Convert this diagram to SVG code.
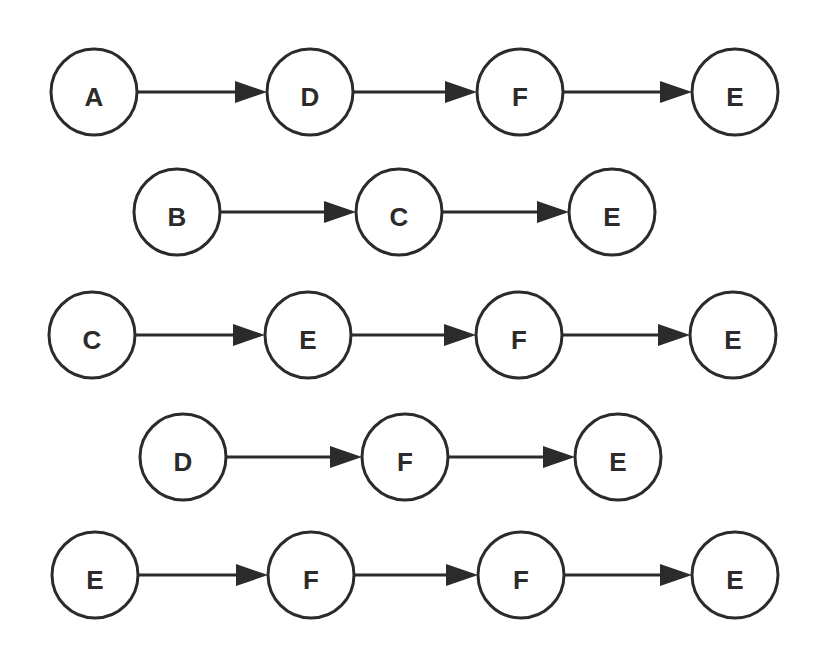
<svg xmlns="http://www.w3.org/2000/svg" width="827" height="665" viewBox="0 0 827 665">
<defs>
<style>
.n circle{fill:#fff;stroke:#2b2b2b;stroke-width:3}
.n text{font-family:"Liberation Sans",Arial,sans-serif;font-size:26px;font-weight:bold;fill:#2b2b2b;text-anchor:middle}
.e line{stroke:#2b2b2b;stroke-width:3}
.e path{fill:#2b2b2b}
</style>
</defs>
<rect width="827" height="665" fill="#fff"/>
<g class="e">
<line x1="137" y1="92" x2="240" y2="92"/><path d="M267,92 L235,81 L235,103 Z"/>
<line x1="353" y1="92" x2="450" y2="92"/><path d="M477,92 L445,81 L445,103 Z"/>
<line x1="563" y1="92" x2="665" y2="92"/><path d="M692,92 L660,81 L660,103 Z"/>
<line x1="220" y1="212" x2="330" y2="212"/><path d="M356,212 L324,201 L324,223 Z"/>
<line x1="442" y1="212" x2="543" y2="212"/><path d="M569,212 L537,201 L537,223 Z"/>
<line x1="135" y1="335" x2="238" y2="335"/><path d="M265,335 L233,324 L233,346 Z"/>
<line x1="351" y1="335" x2="449" y2="335"/><path d="M476,335 L444,324 L444,346 Z"/>
<line x1="562" y1="335" x2="663" y2="335"/><path d="M690,335 L658,324 L658,346 Z"/>
<line x1="226" y1="457" x2="335" y2="457"/><path d="M362,457 L330,446 L330,468 Z"/>
<line x1="448" y1="457" x2="548" y2="457"/><path d="M575,457 L543,446 L543,468 Z"/>
<line x1="138" y1="575" x2="241" y2="575"/><path d="M268,575 L236,564 L236,586 Z"/>
<line x1="354" y1="575" x2="451" y2="575"/><path d="M478,575 L446,564 L446,586 Z"/>
<line x1="564" y1="575" x2="665" y2="575"/><path d="M692,575 L660,564 L660,586 Z"/>
</g>
<g id="r1A" class="n"><circle cx="94" cy="92" r="43"/><text x="94" y="106">A</text></g>
<g id="r1D" class="n"><circle cx="310" cy="92" r="43"/><text x="310" y="106">D</text></g>
<g id="r1F" class="n"><circle cx="520" cy="92" r="43"/><text x="520" y="106">F</text></g>
<g id="r1E" class="n"><circle cx="735" cy="92" r="43"/><text x="735" y="106">E</text></g>
<g id="r2B" class="n"><circle cx="177" cy="212" r="43"/><text x="177" y="226">B</text></g>
<g id="r2C" class="n"><circle cx="399" cy="212" r="43"/><text x="399" y="226">C</text></g>
<g id="r2E" class="n"><circle cx="612" cy="212" r="43"/><text x="612" y="226">E</text></g>
<g id="r3C" class="n"><circle cx="92" cy="335" r="43"/><text x="92" y="349">C</text></g>
<g id="r3E" class="n"><circle cx="308" cy="335" r="43"/><text x="308" y="349">E</text></g>
<g id="r3F" class="n"><circle cx="519" cy="335" r="43"/><text x="519" y="349">F</text></g>
<g id="r3E2" class="n"><circle cx="733" cy="335" r="43"/><text x="733" y="349">E</text></g>
<g id="r4D" class="n"><circle cx="183" cy="457" r="43"/><text x="183" y="471">D</text></g>
<g id="r4F" class="n"><circle cx="405" cy="457" r="43"/><text x="405" y="471">F</text></g>
<g id="r4E" class="n"><circle cx="618" cy="457" r="43"/><text x="618" y="471">E</text></g>
<g id="r5E" class="n"><circle cx="95" cy="575" r="43"/><text x="95" y="589">E</text></g>
<g id="r5F" class="n"><circle cx="311" cy="575" r="43"/><text x="311" y="589">F</text></g>
<g id="r5F2" class="n"><circle cx="521" cy="575" r="43"/><text x="521" y="589">F</text></g>
<g id="r5E2" class="n"><circle cx="735" cy="575" r="43"/><text x="735" y="589">E</text></g>
</svg>
